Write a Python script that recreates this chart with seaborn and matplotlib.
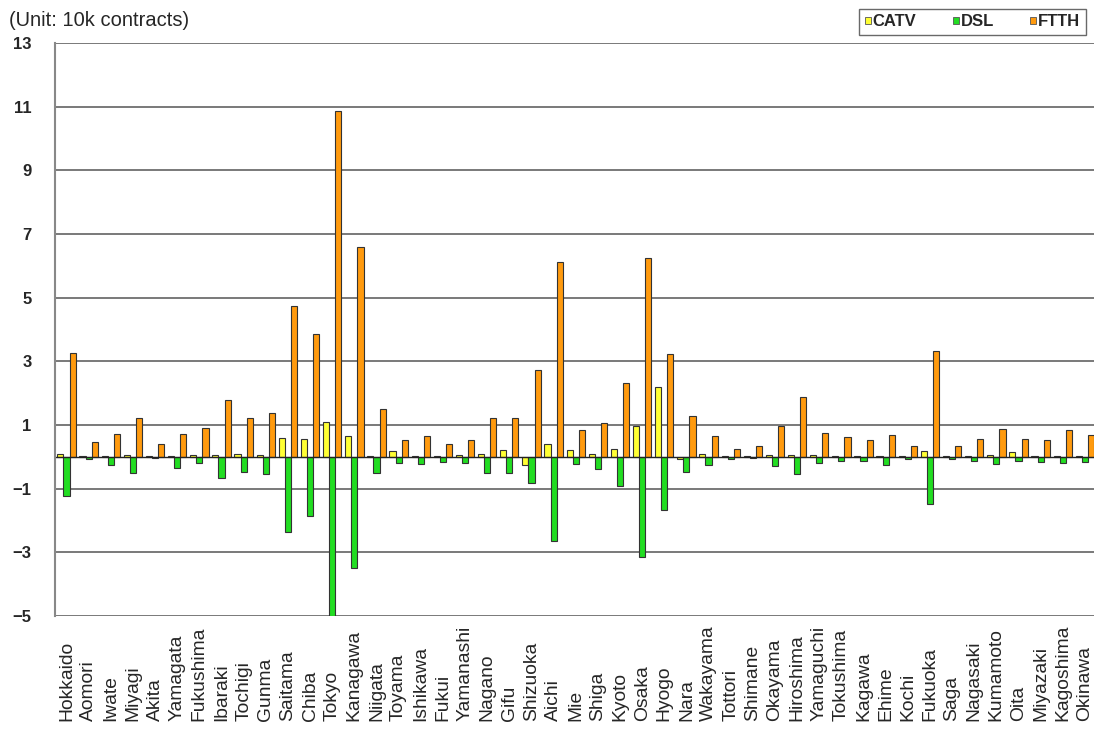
import matplotlib
matplotlib.use("Agg")
import matplotlib.pyplot as plt
import seaborn as sns
import pandas as pd
from matplotlib.patches import Patch

prefectures = ["Hokkaido", "Aomori", "Iwate", "Miyagi", "Akita", "Yamagata", "Fukushima",
               "Ibaraki", "Tochigi", "Gunma", "Saitama", "Chiba", "Tokyo", "Kanagawa",
               "Niigata", "Toyama", "Ishikawa", "Fukui", "Yamanashi", "Nagano", "Gifu",
               "Shizuoka", "Aichi", "Mie", "Shiga", "Kyoto", "Osaka", "Hyogo", "Nara",
               "Wakayama", "Tottori", "Shimane", "Okayama", "Hiroshima", "Yamaguchi",
               "Tokushima", "Kagawa", "Ehime", "Kochi", "Fukuoka", "Saga", "Nagasaki",
               "Kumamoto", "Oita", "Miyazaki", "Kagoshima", "Okinawa"]

catv = [0.10, 0.02, 0.03, 0.05, 0.02, 0.03, 0.05, 0.05, 0.10, 0.05, 0.60, 0.55, 1.08, 0.64,
        0.03, 0.19, 0.04, 0.03, 0.05, 0.10, 0.22, -0.27, 0.41, 0.22, 0.08, 0.26, 0.97, 2.20,
        -0.07, 0.08, 0.02, 0.03, 0.05, 0.05, 0.05, 0.04, 0.03, 0.04, 0.03, 0.17, 0.04, 0.04,
        0.05, 0.15, 0.04, 0.04, 0.03]

dsl = [-1.22, -0.07, -0.26, -0.50, -0.05, -0.35, -0.20, -0.66, -0.47, -0.53, -2.36, -1.85,
       -5.00, -3.48, -0.50, -0.20, -0.24, -0.15, -0.20, -0.50, -0.50, -0.82, -2.65, -0.22,
       -0.38, -0.92, -3.15, -1.66, -0.47, -0.26, -0.07, -0.05, -0.29, -0.53, -0.18, -0.12,
       -0.12, -0.25, -0.07, -1.47, -0.07, -0.12, -0.22, -0.12, -0.15, -0.20, -0.17]

ftth = [3.26, 0.47, 0.71, 1.23, 0.41, 0.71, 0.90, 1.80, 1.23, 1.38, 4.74, 3.86, 10.86, 6.60,
        1.50, 0.52, 0.67, 0.41, 0.52, 1.23, 1.23, 2.74, 6.12, 0.83, 1.05, 2.32, 6.24, 3.23,
        1.28, 0.67, 0.26, 0.33, 0.97, 1.87, 0.75, 0.61, 0.52, 0.68, 0.35, 3.31, 0.35, 0.57,
        0.87, 0.57, 0.52, 0.83, 0.68]

series_names = ["CATV", "DSL", "FTTH"]
colors = ["#FFFF33", "#22DD22", "#FF9A0E"]
yticks = [-5, -3, -1, 1, 3, 5, 7, 9, 11, 13]

df = pd.DataFrame({
    "pref": prefectures * 3,
    "type": [series_names[0]] * 47 + [series_names[1]] * 47 + [series_names[2]] * 47,
    "value": catv + dsl + ftth,
})

sns.set_style("white")
plt.rcParams["font.family"] = ["Liberation Sans", "DejaVu Sans"]

fig = plt.figure(figsize=(10.94, 7.31), dpi=100)
W, H = 1094, 731
ax = fig.add_axes([55 / W, 1 - 616 / H, (1094 - 55) / W, (616 - 43) / H])

sns.barplot(data=df, x="pref", y="value", hue="type", order=prefectures,
            hue_order=series_names, palette=colors, width=0.83, ax=ax,
            edgecolor="#333333", linewidth=0.8, saturation=1, legend=False)

ax.set_ylim(-5, 13)
ax.set_xlim(-0.52, 46.41)
ax.set_yticks(yticks)
ax.set_yticklabels([str(v).replace("-", "\u2212") for v in yticks],
                   fontsize=12, fontweight="bold")
ax.tick_params(axis="y", length=0, pad=17)
ax.yaxis.grid(True, color="#555555", linewidth=1.1)
ax.set_axisbelow(True)
ax.axhline(0, color="#222222", linewidth=1.0, zorder=1)

ax.set_xticks(range(len(prefectures)))
ax.set_xticklabels(prefectures, rotation=90, fontsize=13.9)
for lbl in ax.get_xticklabels():
    lbl.set_va("bottom")
ax.tick_params(axis="x", length=0, pad=105 * 72 / 100)
ax.set_xlabel("")
ax.set_ylabel("")

for s in ["top", "right", "bottom"]:
    ax.spines[s].set_visible(False)
ax.spines["left"].set_color("#888888")
ax.spines["left"].set_linewidth(1.5)

fig.text(9 / W, 1 - 20 / H, "(Unit: 10k contracts)", fontsize=14.5, va="center", ha="left")

handles = [Patch(facecolor=c, edgecolor="#555555", linewidth=0.6) for c in colors]
leg = fig.legend(handles, series_names, loc="center", ncol=3,
                 bbox_to_anchor=((855 + 1090) / 2 / W, 1 - 22 / H),
                 frameon=True, fancybox=False, edgecolor="#444444",
                 handlelength=0.35, handleheight=0.35, handletextpad=0.1,
                 columnspacing=2.2, borderpad=0.35, borderaxespad=0,
                 prop={"weight": "bold", "size": 12})
leg.get_frame().set_linewidth(1.0)

fig.savefig("out.png", dpi=100)
